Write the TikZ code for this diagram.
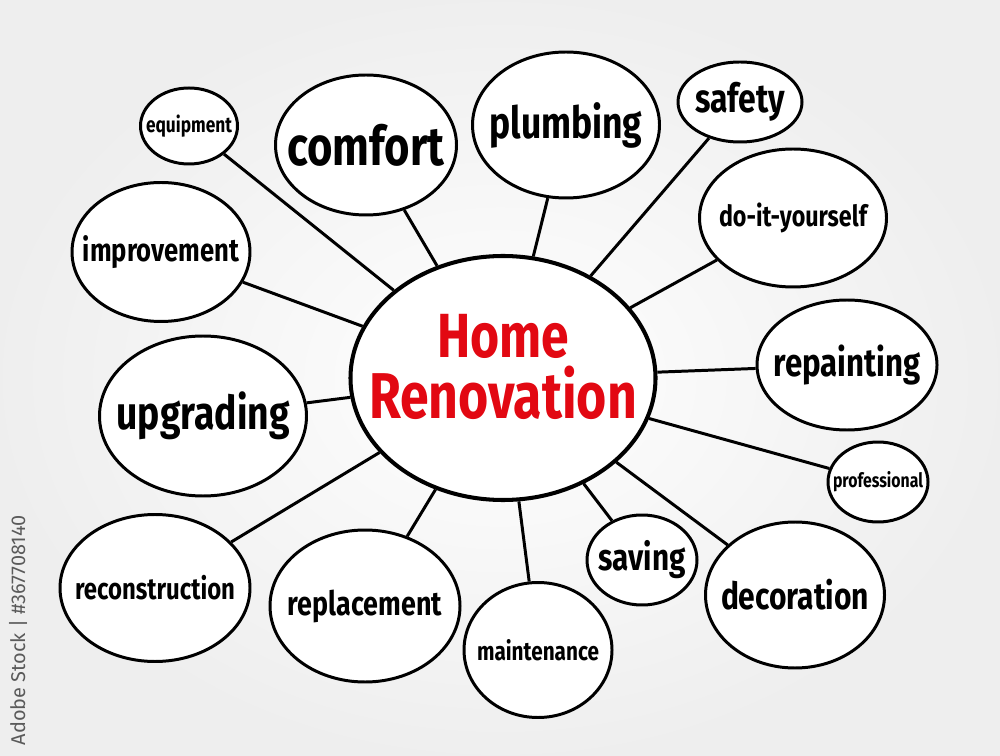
\documentclass[tikz,border=0pt]{standalone}
\usepackage{fontspec}
\setmainfont{Fira Sans}
\usetikzlibrary{shapes.geometric}

\newlength{\pxunit}
\setlength{\pxunit}{0.02cm}
% word squeezed to a given width in px, a bit taller than the font
\newcommand{\fitword}[2]{\scalebox{1}[1.25]{\resizebox{#1\pxunit}{!}{\bfseries #2}}}

\definecolor{hubred}{RGB}{226,8,18}
\definecolor{stockgray}{RGB}{90,90,90}

\tikzset{
  bubble/.style={draw, ellipse, line width=1.7pt, fill=white, inner sep=0pt},
  hub/.style={bubble, line width=2.3pt},
  spoke/.style={line width=1.7pt}
}

\begin{document}
\begin{tikzpicture}[x=0.02cm, y=-0.02cm]
  \useasboundingbox (0,0) rectangle (1000,756);
  \shade[inner color=white, outer color=gray!13] (0,0) rectangle (1000,756);

  % centre
  \node[hub, minimum width=305\pxunit, minimum height=244\pxunit,
    label={[align=center, text=hubred, yshift=0.22cm]center:\fitword{132}{Home}\\[3pt]\fitword{268}{Renovation}}]
    (hub) at (503,378) {};

  % satellites
  \node[bubble, minimum width=97\pxunit, minimum height=76\pxunit, label={center:\fitword{86}{equipment}}] (equipment) at (189,126) {};
  \node[bubble, minimum width=181\pxunit, minimum height=140\pxunit, label={center:\fitword{157}{comfort}}] (comfort) at (366,145) {};
  \node[bubble, minimum width=187\pxunit, minimum height=146\pxunit, label={center:\fitword{153}{plumbing}}] (plumbing) at (566,125) {};
  \node[bubble, minimum width=124\pxunit, minimum height=80\pxunit, label={center:\fitword{90}{safety}}] (safety) at (740,102) {};
  \node[bubble, minimum width=187\pxunit, minimum height=138\pxunit, label={center:\fitword{148}{do-it-yourself}}] (diy) at (793,218) {};
  \node[bubble, minimum width=178\pxunit, minimum height=139\pxunit, label={center:\fitword{156}{improvement}}] (improvement) at (161,252) {};
  \node[bubble, minimum width=180\pxunit, minimum height=130\pxunit, label={center:\fitword{147}{repainting}}] (repainting) at (847,365) {};
  \node[bubble, minimum width=207\pxunit, minimum height=160\pxunit, label={center:\fitword{173}{upgrading}}] (upgrading) at (203,416) {};
  \node[bubble, minimum width=100\pxunit, minimum height=80\pxunit, label={center:\fitword{90}{professional}}] (professional) at (878,482) {};
  \node[bubble, minimum width=190\pxunit, minimum height=147\pxunit, label={center:\fitword{160}{reconstruction}}] (reconstruction) at (155,588) {};
  \node[bubble, minimum width=190\pxunit, minimum height=152\pxunit, label={center:\fitword{154}{replacement}}] (replacement) at (365,606) {};
  \node[bubble, minimum width=148\pxunit, minimum height=135\pxunit, label={center:\fitword{122}{maintenance}}] (maintenance) at (538,650) {};
  \node[bubble, minimum width=110\pxunit, minimum height=90\pxunit, label={center:\fitword{87}{saving}}] (saving) at (642,560) {};
  \node[bubble, minimum width=179\pxunit, minimum height=146\pxunit, label={center:\fitword{148}{decoration}}] (decoration) at (795,595) {};

  % spokes
  \foreach \leaf in {equipment, comfort, plumbing, safety, diy, improvement, repainting,
      upgrading, professional, reconstruction, replacement, maintenance, saving, decoration}
    \draw[spoke] (hub) -- (\leaf);

  % side credit
  \node[rotate=90, text=stockgray] (credit) at (18,630) {\resizebox{230\pxunit}{!}{Adobe Stock | \#367708140}};
\end{tikzpicture}
\end{document}
